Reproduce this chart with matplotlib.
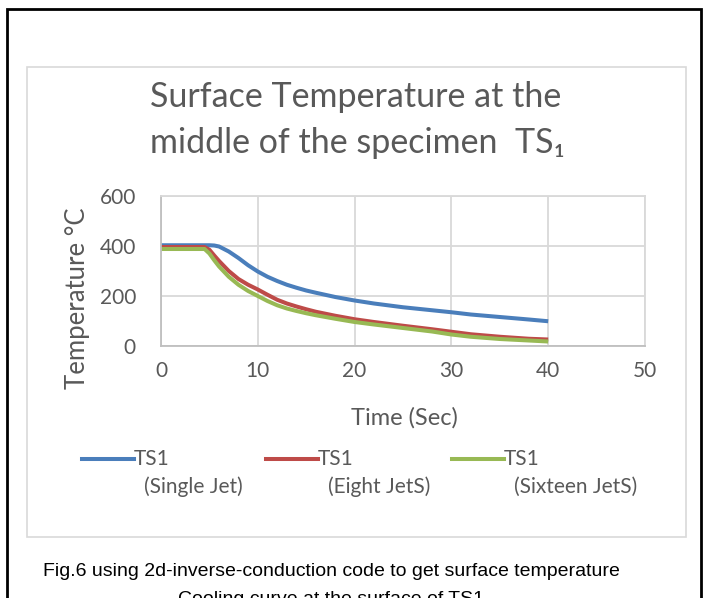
import matplotlib
matplotlib.use("Agg")
import matplotlib.pyplot as plt
from matplotlib.lines import Line2D
from matplotlib.patches import Rectangle

# time in seconds, temperatures in deg C
time = [0, 4.5, 5, 5.5, 6, 7, 8, 9, 10, 11, 12, 13, 14, 15, 16, 18, 20, 22, 25, 28, 30, 32, 35, 38, 40]
single_jet = [403, 403, 403, 402, 398, 378, 352, 323, 298, 277, 260, 245, 233, 222, 213, 196, 182, 170, 155, 143, 135, 126, 116, 106, 99]
eight_jets = [396, 396, 385, 362, 340, 300, 268, 245, 226, 205, 185, 170, 158, 147, 137, 121, 107, 96, 81, 67, 57, 47, 37, 29, 26]
sixteen_jets = [388, 388, 370, 343, 318, 277, 245, 220, 200, 180, 163, 150, 140, 131, 123, 109, 96, 86, 72, 58, 46, 37, 28, 22, 18]

series = [
    (single_jet, "#4A7EBB", "(Single Jet)"),
    (eight_jets, "#BE4B48", "(Eight JetS)"),
    (sixteen_jets, "#98B954", "(Sixteen JetS)"),
]

W, H = 704, 598
fig = plt.figure(figsize=(W / 100, H / 100), dpi=100)
font = "Lato"
grey = "#595959"

def fx(px):
    return px / W

def fy(py):
    return 1 - py / H

# page border and chart area border
fig.add_artist(Rectangle((fx(7), fy(640)), fx(694), 631 / H, fill=False,
                         edgecolor="black", linewidth=2, transform=fig.transFigure))
fig.add_artist(Rectangle((fx(27), fy(537)), fx(659), 470 / H, fill=False,
                         edgecolor="#D9D9D9", linewidth=1.2, transform=fig.transFigure))

ax = fig.add_axes([fx(161), fy(346), fx(645 - 161), (346 - 196) / H])
for vals, color, _ in series:
    ax.plot(time, vals, color=color, linewidth=2.9, solid_capstyle="butt")

ax.set_xlim(0, 50)
ax.set_ylim(0, 600)
ax.set_xticks(range(0, 51, 10))
ax.set_yticks(range(0, 601, 200))
ax.grid(True, color="#D9D9D9", linewidth=1.3)
ax.set_axisbelow(True)
for side, sp in ax.spines.items():
    sp.set_color("#D9D9D9")
    sp.set_linewidth(1.3)
ax.spines["left"].set_color("#BFBFBF")
ax.spines["bottom"].set_color("#BFBFBF")
ax.tick_params(length=0, labelsize=15, labelcolor=grey, pad=11)
ax.tick_params(axis="y", pad=18)
for lab in ax.get_xticklabels() + ax.get_yticklabels():
    lab.set_family(font)

fig.text(fx(356), fy(97), "Surface Temperature at the", ha="center", va="center",
         fontsize=24.5, color=grey, family=font)
fig.text(fx(357), fy(143), "middle of the specimen  TS\u2081", ha="center", va="center",
         fontsize=24.5, color=grey, family=[font, "DejaVu Sans"])
fig.text(fx(78), fy(298), "Temperature \u00b0C", rotation=90, ha="center", va="center",
         fontsize=18.5, color=grey, family=font)
fig.text(fx(404), fy(418), "Time (Sec)", ha="center", va="center",
         fontsize=17, color=grey, family=font)

# legend
leg_x = [82, 266, 452]
for (vals, color, name), x0 in zip(series, leg_x):
    fig.add_artist(Line2D([fx(x0), fx(x0 + 52)], [fy(459), fy(459)], color=color,
                          linewidth=2.9, transform=fig.transFigure))
    fig.text(fx(x0 + 52), fy(459), "TS1", ha="left", va="center",
             fontsize=15, color=grey, family=font)
    fig.text(fx(x0 + 62), fy(487), name, ha="left", va="center",
             fontsize=15, color=grey, family=font)

fig.text(fx(331), fy(571), "Fig.6 using 2d-inverse-conduction code to get surface temperature",
         ha="center", va="center", fontsize=14, color="black", family="Liberation Sans")
fig.text(fx(331), fy(600), "Cooling curve at the surface of TS1",
         ha="center", va="center", fontsize=14, color="black", family="Liberation Sans")

fig.savefig("out.png", dpi=100)
